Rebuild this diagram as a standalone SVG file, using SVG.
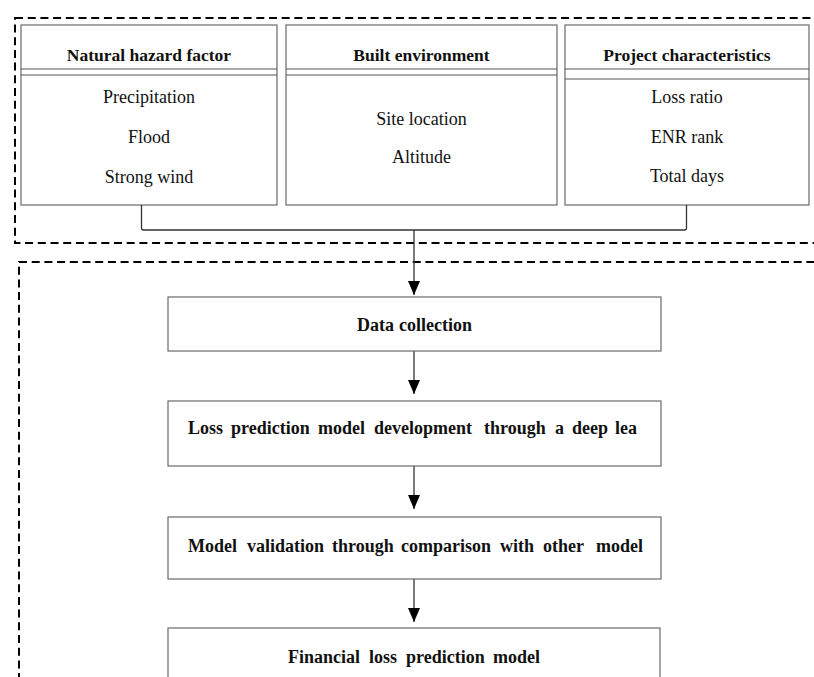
<svg xmlns="http://www.w3.org/2000/svg" width="814" height="677" viewBox="0 0 814 677">
<style>
.frame{fill:none;stroke:#000;stroke-width:2;stroke-dasharray:8 4.7}
.box{fill:#fff;stroke:#6a6a6a;stroke-width:1.2}
.sep{stroke:#555;stroke-width:1.2}
.hd{font-family:"Liberation Serif",serif;font-weight:bold;font-size:17.5px;fill:#111;text-anchor:middle}
.it{font-family:"Liberation Serif",serif;font-size:18px;fill:#111;text-anchor:middle}
.fl{font-family:"Liberation Serif",serif;font-weight:bold;font-size:18px;fill:#111}
.con{fill:none;stroke:#333;stroke-width:1.3}
</style>
<defs>
<marker id="ah" viewBox="0 0 12 14" refX="6" refY="14" markerWidth="12" markerHeight="14" markerUnits="userSpaceOnUse" orient="0">
<path d="M0,0 L12,0 L6,14 z" fill="#000"/>
</marker>
</defs>
<rect class="frame" x="15" y="18" width="830" height="225"/>
<rect class="frame" x="19" y="262" width="830" height="440"/>
<g id="natural-hazard">
<rect class="box" x="21" y="25" width="256" height="180"/>
<line class="sep" x1="21" y1="69" x2="277" y2="69"/>
<line class="sep" x1="21" y1="75" x2="277" y2="75"/>
<text class="hd" x="149" y="61">Natural hazard factor</text>
<text class="it" x="149" y="103">Precipitation</text>
<text class="it" x="149" y="143">Flood</text>
<text class="it" x="149" y="183">Strong wind</text>
</g>
<g id="built-environment">
<rect class="box" x="286" y="25" width="271" height="180"/>
<line class="sep" x1="286" y1="69" x2="557" y2="69"/>
<line class="sep" x1="286" y1="75" x2="557" y2="75"/>
<text class="hd" x="421.5" y="61">Built environment</text>
<text class="it" x="421.5" y="125">Site location</text>
<text class="it" x="421.5" y="163">Altitude</text>
</g>
<g id="project-characteristics">
<rect class="box" x="565" y="25" width="244" height="180"/>
<line class="sep" x1="565" y1="69" x2="809" y2="69"/>
<line class="sep" x1="565" y1="79" x2="809" y2="79"/>
<text class="hd" x="687" y="61">Project characteristics</text>
<text class="it" x="687" y="103">Loss ratio</text>
<text class="it" x="687" y="143">ENR rank</text>
<text class="it" x="687" y="182">Total days</text>
</g>
<g id="connectors">
<path class="con" d="M141.5,205 L141.5,228 Q141.5,230 143.5,230 L684.5,230 Q686.5,230 686.5,228 L686.5,205"/>
<line class="con" x1="414" y1="230" x2="414" y2="295" marker-end="url(#ah)"/>
<line class="con" x1="414" y1="351" x2="414" y2="394" marker-end="url(#ah)"/>
<line class="con" x1="414" y1="466" x2="414" y2="509" marker-end="url(#ah)"/>
<line class="con" x1="414" y1="579" x2="414" y2="622" marker-end="url(#ah)"/>
</g>
<g id="data-collection">
<rect class="box" x="168" y="297" width="493" height="54"/>
<text class="fl" y="331"><tspan x="357">Data</tspan><tspan x="399">collection</tspan></text>
</g>
<g id="model-development">
<rect class="box" x="168" y="401" width="493" height="65"/>
<text class="fl" y="434"><tspan x="188">Loss</tspan><tspan x="231">prediction</tspan><tspan x="318">model</tspan><tspan x="374">development</tspan><tspan x="484">through</tspan><tspan x="555">a</tspan><tspan x="572">deep</tspan><tspan x="615">lea</tspan></text>
</g>
<g id="model-validation">
<rect class="box" x="168" y="517" width="493" height="62"/>
<text class="fl" y="552"><tspan x="188">Model</tspan><tspan x="247">validation</tspan><tspan x="332">through</tspan><tspan x="401">comparison</tspan><tspan x="500">with</tspan><tspan x="543">other</tspan><tspan x="596">model</tspan></text>
</g>
<g id="financial-model">
<rect class="box" x="168" y="628" width="492" height="80"/>
<text class="fl" y="663"><tspan x="288">Financial</tspan><tspan x="369">loss</tspan><tspan x="406">prediction</tspan><tspan x="493">model</tspan></text>
</g>
</svg>
